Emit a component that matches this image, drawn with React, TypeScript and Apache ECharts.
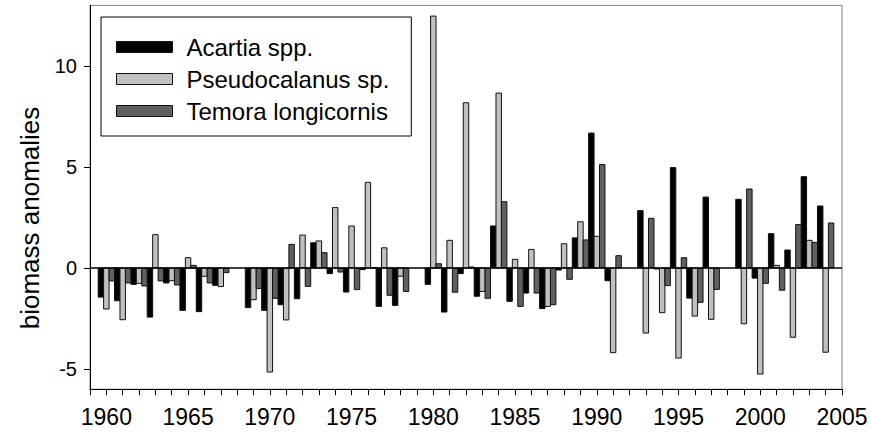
import React, { useEffect, useRef } from "react";
import * as echarts from "echarts";

const years: number[] = [
  1960, 1961, 1962, 1963, 1964, 1965, 1966, 1967, 1968, 1969,
  1970, 1971, 1972, 1973, 1974, 1975, 1976, 1977, 1978, 1979,
  1980, 1981, 1982, 1983, 1984, 1985, 1986, 1987, 1988, 1989,
  1990, 1991, 1992, 1993, 1994, 1995, 1996, 1997, 1998, 1999,
  2000, 2001, 2002, 2003, 2004,
];

const acartia: (number | null)[] = [
  -1.44, -1.62, -0.81, -2.43, -0.74, -2.1, -2.16, -0.86, null, -1.96,
  -2.1, -1.82, -1.52, 1.25, -0.28, -1.19, -0.08, -1.9, -1.85, null,
  -0.81, -2.18, -0.28, -1.4, 2.08, -1.65, -1.24, -2.01, -0.1, 1.49,
  6.68, -0.63, null, 2.84, -0.05, 4.97, -1.49, 3.51, null, 3.4,
  -0.5, 1.7, 0.89, 4.52, 3.07,
];

const pseudocalanus: (number | null)[] = [
  -2.03, -2.56, -0.76, 1.65, -0.63, 0.51, -0.41, -0.92, null, -1.57,
  -5.15, -2.57, 1.63, 1.34, 2.99, 2.08, 4.24, 1.0, -0.41, null,
  12.47, 1.37, 8.18, -1.16, 8.66, 0.43, 0.92, -1.9, 1.2, 2.29,
  1.57, -4.19, null, -3.22, -2.21, -4.46, -2.38, -2.54, null, -2.76,
  -5.25, 0.13, -3.43, 1.37, -4.17,
];

const temora: (number | null)[] = [
  -0.64, -0.74, -0.89, -0.64, -0.84, 0.13, -0.74, -0.23, null, -1.02,
  -1.5, 1.17, -0.91, 0.76, -0.2, -1.07, 0.02, -1.35, -1.16, null,
  0.21, -1.2, 0.05, -1.5, 3.28, -1.9, -1.24, -1.82, -0.56, 1.39,
  5.12, 0.61, null, 2.46, -0.87, 0.51, -1.7, -1.06, null, 3.91,
  -0.76, -1.1, 2.15, 1.27, 2.23,
];

const seriesNames = ["Acartia spp.", "Pseudocalanus sp.", "Temora longicornis"];
const seriesValues = [acartia, pseudocalanus, temora];
const seriesColors = ["#000000", "#c0c0c0", "#606060"];

const yTickValues = [-5, 0, 5, 10];
const yAxisTitle = "biomass anomalies";

const FONT = "'Liberation Sans', Arial, sans-serif";

export default function App() {
  const ref = useRef<HTMLDivElement>(null);

  useEffect(() => {
    if (!ref.current) return;
    const chart = echarts.init(ref.current, null, { renderer: "svg" });

    const series: any[] = seriesNames.map((name, idx) => ({
      name,
      type: "custom",
      itemStyle: { color: seriesColors[idx], borderColor: "#111", borderWidth: 1 },
      data: years
        .map((y, i) => [y, seriesValues[idx][i]])
        .filter((d) => d[1] !== null),
      encode: { x: 0, y: 1 },
      renderItem: (params: any, api: any) => {
        const yr = api.value(0);
        const v = api.value(1);
        const w = api.size([1, 0])[0] / 3;
        const base = api.coord([yr, 0]);
        const top = api.coord([yr, v]);
        const x = base[0] - 1.5 * w + idx * w;
        return {
          type: "rect",
          shape: {
            x,
            y: Math.min(base[1], top[1]),
            width: w,
            height: Math.abs(top[1] - base[1]),
          },
          style: {
            fill: seriesColors[idx],
            stroke: "#111",
            lineWidth: 1,
          },
        };
      },
      markLine:
        idx === 0
          ? {
              silent: true,
              symbol: "none",
              label: { show: false },
              lineStyle: { color: "#000", width: 1.5, type: "solid" },
              data: [{ yAxis: 0 }],
              z: 10,
            }
          : undefined,
    }));

    chart.setOption({
      animation: false,
      backgroundColor: "#ffffff",
      textStyle: { fontFamily: FONT },
      grid: {
        left: 90,
        right: 29,
        top: 5.4,
        bottom: 46.8,
        show: true,
        borderColor: "#808080",
        borderWidth: 1,
        backgroundColor: "transparent",
      },
      graphic: [
        {
          type: "text",
          x: 30,
          y: 218,
          rotation: Math.PI / 2,
          style: {
            text: yAxisTitle,
            fontFamily: FONT,
            fontSize: 26,
            fill: "#000",
            align: "center",
            verticalAlign: "middle",
          },
        },
      ],
      legend: {
        orient: "vertical",
        left: 101,
        top: 17,
        padding: [17, 22, 12, 15],
        itemGap: 6,
        itemWidth: 56,
        itemHeight: 11,
        icon: "rect",
        borderColor: "#000",
        borderWidth: 1,
        backgroundColor: "#fff",
        textStyle: {
          fontFamily: FONT,
          fontSize: 24,
          color: "#000",
          padding: [0, 0, 0, 9],
          lineHeight: 26,
        },
        data: seriesNames.map((n, i) => ({
          name: n,
          itemStyle: { color: seriesColors[i], borderColor: "#111", borderWidth: 1 },
        })),
      },
      xAxis: {
        type: "value",
        min: 1959,
        max: 2005,
        interval: 1,
        splitLine: { show: false },
        axisLine: { show: true, onZero: false, lineStyle: { color: "#000", width: 1 } },
        axisTick: { show: true, length: 6, lineStyle: { color: "#000" } },
        axisLabel: {
          fontFamily: FONT,
          fontSize: 23,
          color: "#000",
          margin: 16,
          formatter: (v: number) => (v % 5 === 0 ? String(v) : ""),
        },
      },
      yAxis: {
        type: "value",
        min: -6,
        max: 13,
        splitLine: { show: false },
        axisLine: { show: true, onZero: false, lineStyle: { color: "#000", width: 1 } },
        axisTick: {
          show: true,
          length: 6,
          customValues: yTickValues,
          lineStyle: { color: "#000" },
        },
        axisLabel: {
          fontFamily: FONT,
          fontSize: 20,
          color: "#000",
          margin: 13,
          customValues: yTickValues,
        },
      },
      series,
    });

    return () => {
      chart.dispose();
    };
  }, []);

  return (
    <div
      ref={ref}
      style={{ position: "fixed", left: 0, top: 0, width: 871, height: 436 }}
    />
  );
}
